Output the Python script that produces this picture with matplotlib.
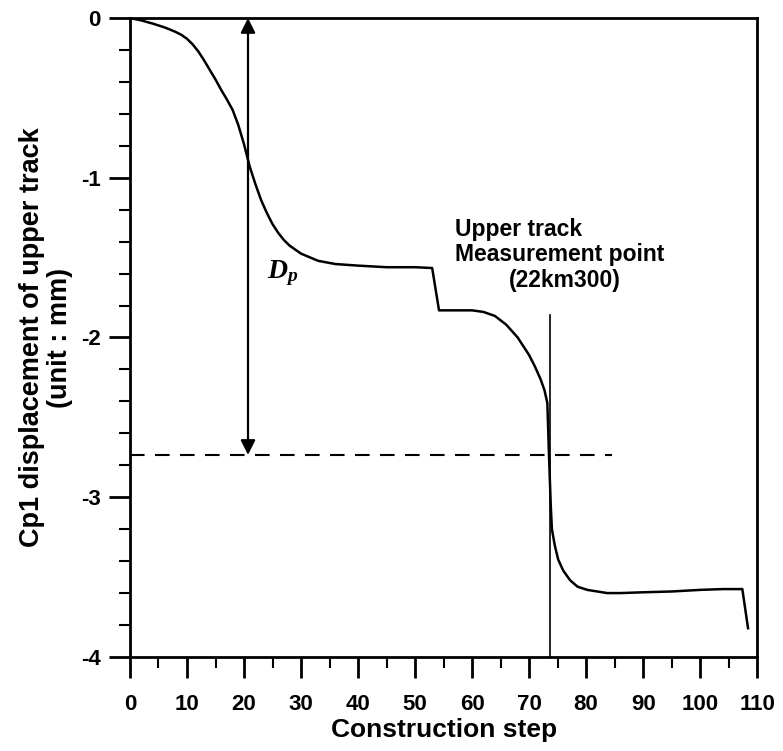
import matplotlib
matplotlib.use("Agg")
import matplotlib.pyplot as plt
from matplotlib.ticker import MultipleLocator

# ─────────────── данные ───────────────
steps = [0, 2, 4, 6, 7, 8, 9, 10, 11, 12, 13, 14, 15, 16, 17, 18, 19, 20,
         21, 22, 23, 24, 25, 26, 27, 28, 30, 33, 36, 40, 45, 50, 53, 54.2,
         56, 60, 62, 64, 66, 68, 70, 71, 72, 72.7, 73.2, 73.5, 73.8, 74.0,
         74.5, 75.1, 76, 77.2, 78.5, 80.2, 83.7, 86, 90, 95, 100, 104, 107.4,
         108.4]
disp = [0, -0.015, -0.035, -0.058, -0.072, -0.087, -0.105, -0.13, -0.165,
        -0.21, -0.265, -0.325, -0.385, -0.45, -0.51, -0.575, -0.67, -0.79,
        -0.93, -1.04, -1.14, -1.22, -1.29, -1.345, -1.39, -1.425, -1.475,
        -1.52, -1.54, -1.55, -1.56, -1.56, -1.565, -1.83, -1.83, -1.83,
        -1.84, -1.865, -1.92, -2.0, -2.11, -2.18, -2.26, -2.33, -2.41, -2.75,
        -3.05, -3.2, -3.3, -3.39, -3.46, -3.52, -3.56, -3.58, -3.60, -3.60,
        -3.595, -3.59, -3.58, -3.575, -3.575, -3.82]

dp_step = 20.7          # положение стрелки D_p
dp_level = -2.735       # уровень пунктирной линии
dash_end = 84.6
meas_step = 73.6        # точка измерения
meas_top = -1.86

plt.rcParams["font.family"] = "Liberation Sans"
plt.rcParams["font.weight"] = "bold"
plt.rcParams["axes.unicode_minus"] = False
plt.rcParams["mathtext.fontset"] = "custom"
plt.rcParams["mathtext.it"] = "Liberation Serif:italic:bold"
plt.rcParams["mathtext.rm"] = "Liberation Serif:bold"

fig = plt.figure(figsize=(7.83, 7.51), dpi=100)
ax = fig.add_axes([0.166, 0.1252, 0.801, 0.8508])

ax.plot(steps, disp, color="black", lw=1.8)

# пунктир и вертикаль
ax.plot([0, dash_end], [dp_level, dp_level], color="black", lw=1.5,
        dashes=(7, 5))
ax.plot([meas_step, meas_step], [meas_top, -4], color="black", lw=1.2)

# двусторонняя стрелка D_p
ax.annotate("", xy=(dp_step, 0), xytext=(dp_step, dp_level),
            arrowprops=dict(arrowstyle="<|-|>", color="black", lw=1.6,
                            mutation_scale=22, shrinkA=0, shrinkB=0))
ax.text(26.8, -1.6, r"$D_p$", fontsize=20, ha="center", va="center")

ax.text(57.0, -1.327, "Upper track", fontsize=16.5, fontweight="bold",
        ha="left", va="center")
ax.text(57.0, -1.48, "Measurement point", fontsize=16.5, fontweight="bold",
        ha="left", va="center")
ax.text(76.3, -1.646, "(22km300)", fontsize=16.5, fontweight="bold",
        ha="center", va="center")

# оси
ax.set_xlim(0, 110)
ax.set_ylim(-4, 0)
ax.xaxis.set_major_locator(MultipleLocator(10))
ax.xaxis.set_minor_locator(MultipleLocator(5))
ax.yaxis.set_major_locator(MultipleLocator(1))
ax.yaxis.set_minor_locator(MultipleLocator(0.2))
ax.tick_params(which="major", direction="out", length=15, width=2,
               labelsize=16)
ax.tick_params(axis="x", which="major", pad=12)
ax.tick_params(axis="y", which="major", pad=6)
ax.tick_params(which="minor", direction="out", length=8, width=1.5)
ax.tick_params(top=False, right=False)
for lab in ax.get_xticklabels() + ax.get_yticklabels():
    lab.set_fontweight("bold")
for sp in ax.spines.values():
    sp.set_linewidth(2)

ax.set_xlabel("Construction step", fontsize=19, fontweight="bold", labelpad=2)
ax.set_ylabel("Cp1 displacement of upper track\n(unit : mm)", fontsize=19.5,
              fontweight="bold", labelpad=6, linespacing=1.1)

fig.savefig("out.png", dpi=100)
